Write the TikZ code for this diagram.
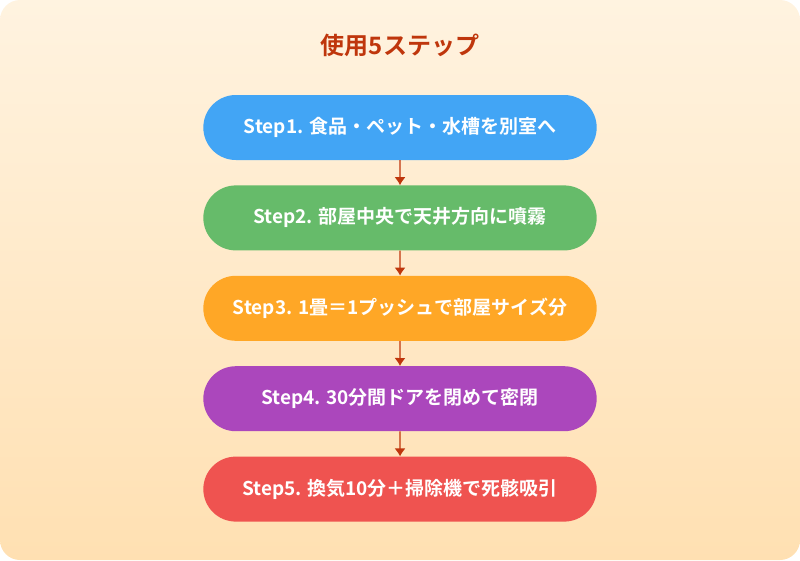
\documentclass[tikz,border=0pt]{standalone}
\usepackage{fontspec}
\setmainfont{Noto Sans CJK JP}[BoldFont={* Bold}]
\usetikzlibrary{positioning, shapes.misc, arrows.meta}
\definecolor{bgtop}{HTML}{FFF3E0}
\definecolor{bgbot}{HTML}{FFE0B2}
\definecolor{titlered}{HTML}{BF360C}
\definecolor{sblue}{HTML}{42A5F5}
\definecolor{sgreen}{HTML}{66BB6A}
\definecolor{sorange}{HTML}{FFA726}
\definecolor{spurple}{HTML}{AB47BC}
\definecolor{sred}{HTML}{EF5350}

\begin{document}
\begin{tikzpicture}[x=1pt, y=-1pt]
    \tikzset{
      stepbox/.style={
        rounded rectangle, minimum width=400pt, minimum height=65pt,
        text=white, font=\bfseries\fontsize{19}{22}\selectfont,
      },
      link/.style={
        -{Latex[length=8pt,width=11pt]}, draw, very thick, draw=titlered,
      },
    }

    \shade[top color=bgtop, bottom color=bgbot, rounded corners=20pt]
      (0,0) rectangle (800,560);

    \node[text=titlered, font=\bfseries\fontsize{24}{28}\selectfont] (title) at (400,45) {使用5ステップ};

    \node[stepbox, fill=sblue] (s1) at (400,127.5) {Step1. 食品・ペット・水槽を別室へ};
    \node[stepbox, fill=sgreen, below=25pt of s1] (s2) {Step2. 部屋中央で天井方向に噴霧};
    \node[stepbox, fill=sorange, below=25pt of s2] (s3) {Step3. 1畳＝1プッシュで部屋サイズ分};
    \node[stepbox, fill=spurple, below=25pt of s3] (s4) {Step4. 30分間ドアを閉めて密閉};
    \node[stepbox, fill=sred, below=25pt of s4] (s5) {Step5. 換気10分＋掃除機で死骸吸引};

    \draw[link] (s1) -- (s2);
    \draw[link] (s2) -- (s3);
    \draw[link] (s3) -- (s4);
    \draw[link] (s4) -- (s5);
  \end{tikzpicture}
\end{document}
